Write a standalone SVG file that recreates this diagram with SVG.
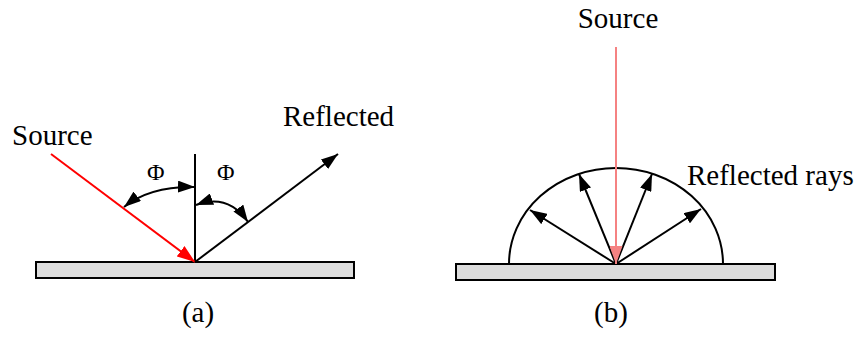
<svg xmlns="http://www.w3.org/2000/svg" width="859" height="338" viewBox="0 0 859 338">
<style>
.lbl{font-size:29px}
.phi{font-size:24px}
.ln{stroke:#000;stroke-width:2;fill:none}
.plate{fill:#dcdcdc;stroke:#000;stroke-width:2}
</style>
<defs>
<marker id="ab" markerUnits="userSpaceOnUse" markerWidth="17" markerHeight="12" refX="17" refY="6" orient="auto-start-reverse" viewBox="0 0 17 12"><path d="M0,0 L17,6 L0,12 z" fill="#000"/></marker>
<marker id="ar" markerUnits="userSpaceOnUse" markerWidth="18" markerHeight="13" refX="18" refY="6.5" orient="auto" viewBox="0 0 18 13"><path d="M0,0 L18,6.5 L0,13 z" fill="#ff0000"/></marker>
<marker id="ap" markerUnits="userSpaceOnUse" markerWidth="18" markerHeight="13" refX="18" refY="6.5" orient="auto" viewBox="0 0 18 13"><path d="M0,0 L18,6.5 L0,13 z" fill="#f58282"/></marker>
</defs>
<g font-family="'Liberation Serif', 'DejaVu Serif', serif" fill="#000">
<g id="panel-a">
<g id="plate-a"><rect class="plate" x="36" y="262" width="318" height="16"/></g>
<g id="normal-a"><line class="ln" x1="195" y1="154" x2="195" y2="262"/></g>
<g id="source-a"><text class="lbl" x="12" y="145">Source</text></g>
<g id="reflected-a"><text class="lbl" x="283" y="126">Reflected</text></g>
<g id="phi1"><text class="phi" x="147" y="180">Φ</text></g>
<g id="phi2"><text class="phi" x="217" y="180">Φ</text></g>
<g id="caption-a"><text class="lbl" x="198" y="322" text-anchor="middle">(a)</text></g>
</g>
<g id="panel-b">
<g id="plate-b"><rect class="plate" x="456" y="264" width="319" height="16"/></g>
<g id="dome"><path class="ln" d="M509,264 A107,96 0 0 1 723,264"/></g>
<g id="source-b"><text class="lbl" x="618" y="28" text-anchor="middle">Source</text></g>
<g id="reflected-rays"><text class="lbl" x="687" y="185">Reflected rays</text></g>
<g id="caption-b"><text class="lbl" x="611" y="322" text-anchor="middle">(b)</text></g>
</g>
</g>
<g id="connectors">
<line x1="51" y1="154" x2="195" y2="262" stroke="#ff0000" stroke-width="2" marker-end="url(#ar)"/>
<line class="ln" x1="195" y1="262" x2="338" y2="154" marker-end="url(#ab)"/>
<path class="ln" d="M124,207 Q150,186 195,187" marker-start="url(#ab)" marker-end="url(#ab)"/>
<path class="ln" d="M196,205 Q228,193 248,222" marker-start="url(#ab)" marker-end="url(#ab)"/>
<line class="ln" x1="616" y1="264" x2="530" y2="210" marker-end="url(#ab)"/>
<line class="ln" x1="616" y1="264" x2="579" y2="174" marker-end="url(#ab)"/>
<line class="ln" x1="616" y1="264" x2="652" y2="174" marker-end="url(#ab)"/>
<line class="ln" x1="616" y1="264" x2="701" y2="209" marker-end="url(#ab)"/>
<line x1="616" y1="47" x2="616" y2="264" stroke="#f58282" stroke-width="2" marker-end="url(#ap)"/>
</g>
</svg>
